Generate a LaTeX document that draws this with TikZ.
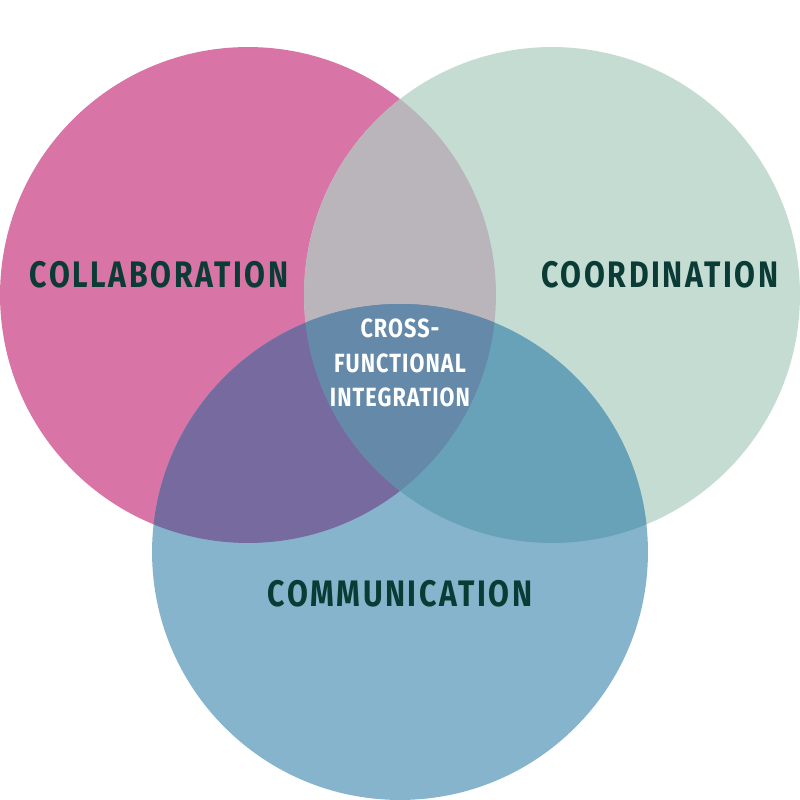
\documentclass[tikz,border=0pt]{standalone}
\usepackage{fontspec}
\newfontfamily\vennfont[FakeStretch=0.82,LetterSpace=7]{Fira Sans}
\newfontfamily\midfont[FakeStretch=0.82,LetterSpace=4]{Fira Sans}
\usetikzlibrary{positioning}

\definecolor{collabcol}{HTML}{D874A6}
\definecolor{coordcol}{HTML}{C5DCD3}
\definecolor{commcol}{HTML}{86B4CD}
\definecolor{colcoocol}{HTML}{BAB5BB}
\definecolor{colcomcol}{HTML}{766A9F}
\definecolor{coocomcol}{HTML}{68A2B8}
\definecolor{allcol}{HTML}{6489A9}
\definecolor{labelcol}{HTML}{0B3B35}

\tikzset{
  setlabel/.style={text=labelcol, font=\vennfont\bfseries\fontsize{21}{24}\selectfont, inner sep=0pt},
  midlabel/.style={text=white, align=center, font=\midfont\bfseries\fontsize{15}{19.8}\selectfont, inner sep=0pt}
}

\begin{document}
\begin{tikzpicture}[x=0.02cm, y=-0.02cm]
  \useasboundingbox (0,0) rectangle (800,800);

  % circle centres
  \coordinate (collab) at (248,295);
  \coordinate (coord)  at (552,295);
  \coordinate (comm)   at (400,552);

  % the three sets
  \fill[collabcol] (collab) circle (4.96cm);
  \fill[coordcol]  (coord)  circle (4.96cm);
  \fill[commcol]   (comm)   circle (4.96cm);

  % overlaps
  \begin{scope}
    \clip (collab) circle (4.96cm);
    \fill[colcoocol] (coord) circle (4.96cm);
    \fill[colcomcol] (comm) circle (4.96cm);
  \end{scope}
  \begin{scope}
    \clip (coord) circle (4.96cm);
    \fill[coocomcol] (comm) circle (4.96cm);
  \end{scope}
  \begin{scope}
    \clip (collab) circle (4.96cm);
    \clip (coord) circle (4.96cm);
    \fill[allcol] (comm) circle (4.96cm);
  \end{scope}

  % labels
  \node[setlabel] (collabtxt) at (159,275) {COLLABORATION};
  \node[setlabel] (coordtxt)  at (660,275) {COORDINATION};
  \node[setlabel] (commtxt)   at (400,594) {COMMUNICATION};
  \node[midlabel] (midtxt)    at (400,363) {CROSS-\\FUNCTIONAL\\INTEGRATION};
\end{tikzpicture}
\end{document}
